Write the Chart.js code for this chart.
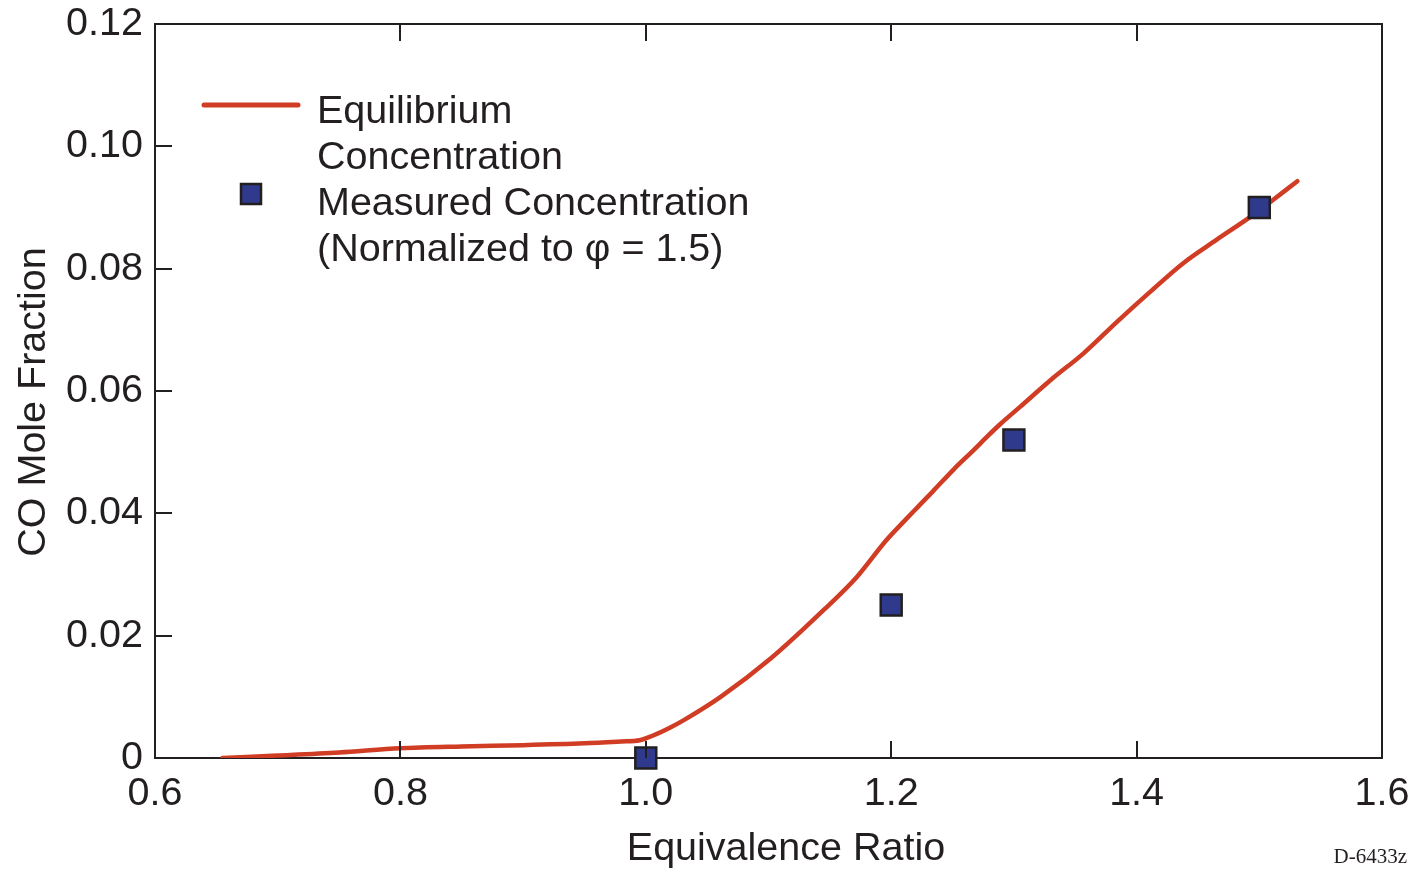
<!DOCTYPE html>
<html>
<head>
<meta charset="utf-8">
<script src="https://cdn.jsdelivr.net/npm/chart.js@4.4.1/dist/chart.umd.min.js"></script>
<style>
  html, body { margin: 0; padding: 0; background: #fff; }
  #wrap { width: 1414px; height: 869px; position: relative; }
</style>
</head>
<body>
<div id="wrap"><canvas id="chart"></canvas></div>
<script>
// ── Data ──
const eqPhi = [0.655, 0.70, 0.75, 0.80, 0.85, 0.90, 0.95, 0.98, 0.995, 1.005, 1.02, 1.031, 1.061, 1.102, 1.145, 1.172, 1.196, 1.210, 1.221, 1.234, 1.251, 1.267, 1.279, 1.289, 1.305, 1.330, 1.357, 1.384, 1.411, 1.438, 1.465, 1.493, 1.509, 1.531];
const eqCO  = [0.0000, 0.0004, 0.0009, 0.0016, 0.0019, 0.0021, 0.0024, 0.0027, 0.0029, 0.0036, 0.0050, 0.0062, 0.0100, 0.0163, 0.0242, 0.0296, 0.0356, 0.0386, 0.0409, 0.0436, 0.0472, 0.0503, 0.0527, 0.0546, 0.0574, 0.0618, 0.0662, 0.0713, 0.0762, 0.0809, 0.0847, 0.0885, 0.0909, 0.0943];

const measPhi = [1.0, 1.2, 1.3, 1.5];
const measCO  = [0.000, 0.025, 0.052, 0.090];

const xTickValues = [0.6, 0.8, 1.0, 1.2, 1.4, 1.6];
const xTickLabels = ["0.6", "0.8", "1.0", "1.2", "1.4", "1.6"];
const yTickValues = [0, 0.02, 0.04, 0.06, 0.08, 0.10, 0.12];
const yTickLabels = ["0", "0.02", "0.04", "0.06", "0.08", "0.10", "0.12"];

const legendLines = [
  ["Equilibrium", "Concentration"],
  ["Measured Concentration", "(Normalized to \u03C6 = 1.5)"],
];

// ── Styles ──
const INK = "#231f20";
const RED = "#d13c25";
const BLUE = "#2f3a8c";
const FONT = "'Liberation Sans', Arial, Helvetica, sans-serif";
const FS = 39.5;

Chart.defaults.font.family = FONT;
Chart.defaults.color = INK;

const toPoints = (xs, ys) => xs.map((x, i) => ({ x, y: ys[i] }));

// frame, inward ticks, axis titles, legend, figure id
const decor = {
  id: "decor",
  beforeDatasetsDraw(chart) {
    const { ctx, chartArea: a } = chart;
    ctx.save();
    ctx.strokeStyle = INK;
    ctx.lineWidth = 2;
    ctx.strokeRect(a.left, a.top, a.right - a.left, a.bottom - a.top);
    ctx.restore();
  },
  afterDatasetsDraw(chart) {
    const { ctx, chartArea: a, scales } = chart;
    const T = 17;
    ctx.save();
    ctx.strokeStyle = INK;
    ctx.lineWidth = 2;
    ctx.beginPath();
    xTickValues.forEach(v => {
      const px = Math.round(scales.x.getPixelForValue(v));
      ctx.moveTo(px, a.bottom); ctx.lineTo(px, a.bottom - T);
      ctx.moveTo(px, a.top); ctx.lineTo(px, a.top + T);
    });
    yTickValues.forEach(v => {
      const py = Math.round(scales.y.getPixelForValue(v));
      ctx.moveTo(a.left, py); ctx.lineTo(a.left + T, py);
    });
    ctx.stroke();

    // axis titles
    ctx.fillStyle = INK;
    ctx.font = `${FS}px ${FONT}`;
    ctx.textAlign = "center";
    ctx.textBaseline = "alphabetic";
    ctx.fillText("Equivalence Ratio", 786, 860);
    ctx.save();
    ctx.translate(45, 402);
    ctx.rotate(-Math.PI / 2);
    ctx.fillText("CO Mole Fraction", 0, 0);
    ctx.restore();

    // legend
    const line = chart.data.datasets[0];
    const meas = chart.data.datasets[1];
    ctx.lineCap = "round";
    ctx.strokeStyle = line.borderColor;
    ctx.lineWidth = 5;
    ctx.beginPath();
    ctx.moveTo(204, 105); ctx.lineTo(298, 105);
    ctx.stroke();
    ctx.fillStyle = meas.backgroundColor;
    ctx.fillRect(241, 184, 20, 20);
    ctx.strokeStyle = meas.borderColor;
    ctx.lineWidth = 2.5;
    ctx.strokeRect(241, 184, 20, 20);

    ctx.fillStyle = INK;
    ctx.textAlign = "left";
    const baselines = [[123, 169], [215, 261]];
    legendLines.forEach((rows, i) => rows.forEach((t, j) => ctx.fillText(t, 317, baselines[i][j])));

    // figure id
    ctx.font = "21px 'Liberation Serif', 'Times New Roman', serif";
    ctx.textAlign = "right";
    ctx.fillText("D-6433z", 1407, 863);
    ctx.restore();
  },
};

new Chart(document.getElementById("chart"), {
  type: "scatter",
  data: {
    datasets: [
      {
        label: "Equilibrium Concentration",
        data: toPoints(eqPhi, eqCO),
        showLine: true,
        borderColor: RED,
        backgroundColor: RED,
        borderWidth: 4.5,
        borderCapStyle: "round",
        borderJoinStyle: "round",
        cubicInterpolationMode: "monotone",
        pointRadius: 0,
        order: 2,
      },
      {
        label: "Measured Concentration",
        data: toPoints(measPhi, measCO),
        showLine: false,
        pointStyle: "rect",
        pointRadius: 14.8,
        pointBorderWidth: 2.5,
        backgroundColor: BLUE,
        borderColor: INK,
        clip: false,
        order: 1,
      },
    ],
  },
  options: {
    responsive: true,
    maintainAspectRatio: false,
    animation: false,
    events: [],
    layout: { padding: { left: 0, top: 24, right: 32, bottom: 0 } },
    plugins: { legend: { display: false }, tooltip: { enabled: false } },
    scales: {
      x: {
        type: "linear",
        min: 0.6, max: 1.6,
        grid: { display: false, drawTicks: false },
        border: { display: false },
        afterBuildTicks: s => { s.ticks = xTickValues.map(v => ({ value: v })); },
        afterFit: s => { s.height = 111; s.paddingLeft = 0; s.paddingRight = 0; },
        ticks: {
          padding: 12,
          maxRotation: 0,
          font: { size: FS },
          color: INK,
          callback: (v, i) => xTickLabels[i],
        },
      },
      y: {
        type: "linear",
        min: 0, max: 0.12,
        grid: { display: false, drawTicks: false },
        border: { display: false },
        afterBuildTicks: s => { s.ticks = yTickValues.map(v => ({ value: v })); },
        afterFit: s => { s.width = 155; s.paddingTop = 0; s.paddingBottom = 0; },
        ticks: {
          padding: 12,
          font: { size: FS },
          color: INK,
          callback: (v, i) => yTickLabels[i],
        },
      },
    },
  },
  plugins: [decor],
});
</script>
</body>
</html>
